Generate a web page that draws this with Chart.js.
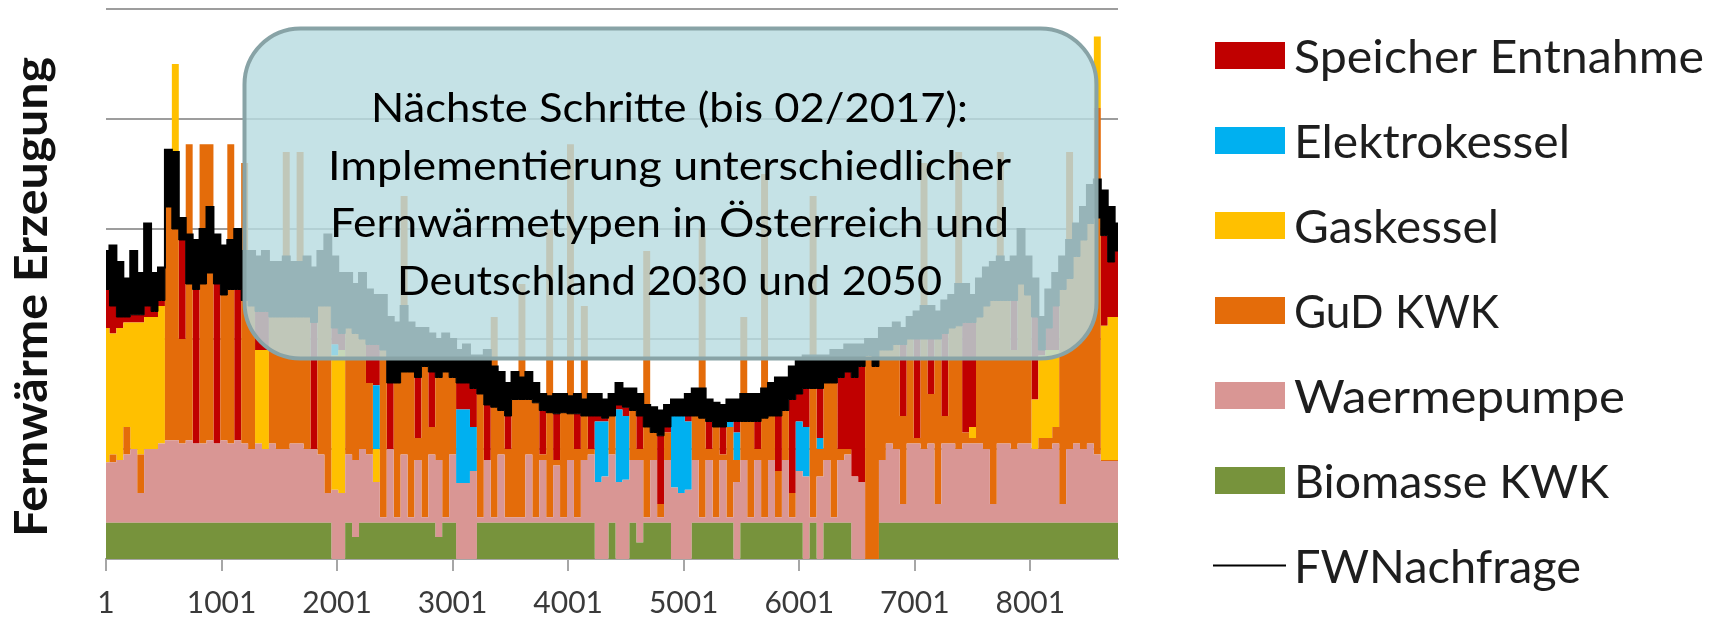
<!DOCTYPE html>
<html>
<head>
<meta charset="utf-8">
<script src="https://cdn.jsdelivr.net/npm/chart.js"></script>
<style>
html,body{margin:0;padding:0;background:#fff;}
canvas{display:block;}
</style>
</head>
<body>
<canvas id="c" width="1721" height="623"></canvas>
<script>
// ---------- data (one sample every 60 hours) ----------
const STEP = 60;
const tickLabels = [1, 1001, 2001, 3001, 4001, 5001, 6001, 7001, 8001];

const biomasse = [
 .33,.33,.33,.33,.33,.33,.33,.33,.33,.33,
 .33,.33,.33,.33,.33,.33,.33,.33,.33,.33,
 .33,.33,.33,.33,.33,.33,.33,.33,.33,.33,
 .33,.33,.33,0,0,.33,.2,.33,.33,.33,
 .33,.33,.33,.33,.33,.33,.33,.33,.2,.33,
 .33,0,0,0,.33,.33,.33,.33,.33,.33,
 .33,.33,.33,.33,.33,.33,.33,.33,.33,.33,
 .33,0,0,.33,0,0,.33,.15,.33,.33,
 .33,.33,0,0,0,.33,.33,.33,.33,.33,
 .33,0,.33,.33,.33,.33,.33,.33,.33,.33,
 .33,0,.33,0,.33,.33,.33,.33,0,0,
 0,0,.33,.33,.33,.33,.33,.33,.33,.33,
 .33,.33,.33,.33,.33,.33,.33,.33,.33,.33,
 .33,.33,.33,.33,.33,.33,.33,.33,.33,.33,
 .33,.33,.33,.33,.33,.33,.33
];
const waermepumpe = [
 .55,.55,.57,.62,.67,.27,.67,.67,.72,.75,
 .75,.72,.75,.72,.72,.75,.72,.75,.72,.75,
 .72,.67,.72,.67,.72,.67,.67,.72,.72,.67,
 .67,.62,.27,.63,.6,.62,.7,.67,.62,.37,
 .05,.67,.05,.62,.05,.57,.05,.62,.7,.05,
 .62,.69,.69,.8,.05,.57,.05,.62,.05,.05,
 .05,.62,.05,.57,.05,.52,.05,.57,.05,.57,
 .62,.7,.75,.62,.7,.72,.57,.75,.05,.57,
 .05,.57,.65,.6,.63,.57,.05,.57,.05,.57,
 .05,.7,.57,.05,.57,.05,.57,.05,.57,.05,
 .47,.75,.05,.75,.57,.05,.57,.62,.75,.7,
 0,0,.57,.72,.67,.17,.72,.72,.67,.72,
 .17,.72,.72,.67,.72,.72,.72,.67,.17,.72,
 .72,.67,.72,.72,.67,.67,.67,.72,.17,.67,
 .72,.67,.72,.62,.56,.56,.56
];
const gudKwk = [
 0,.07,0,.25,0,.35,0,0,0,2.64,
 2.59,.95,2.69,0,2.72,2.69,0,1.32,2.72,0,
 2.55,1.3,0,0,1.15,1.2,2.7,1.15,2.65,1.2,
 0,1.35,1.7,0,0,1.15,1.15,1.0,.65,0,
 1.52,0,1.22,2.35,1.32,.2,1.37,.25,.75,1.32,
 .7,0,0,0,1.12,0,1.82,.4,.62,1.07,
 2.12,.5,1.04,.05,2.62,.05,.95,2.87,.62,1.4,
 .05,0,0,.35,0,0,.45,.1,2.42,.25,
 .12,.25,0,0,0,.4,2.62,.1,.82,.05,
 .82,.2,1.3,.87,.1,3.12,.4,.42,.45,.22,
 0,0,2.92,.25,.7,1.22,.1,.05,0,0,
 1.85,1.75,1.0,.85,.95,.8,.95,.05,2.6,.45,
 1.5,.25,1.05,2.7,.1,.05,1.15,1.3,1.85,2.65,
 1.3,.9,1.45,1.35,0,.1,.1,.15,1.95,2.7,
 1.7,1.9,2.0,3.15,.01,.01,.01
];
const gaskessel = [
 1.22,1.1,1.2,.95,1.15,1.2,1.2,1.2,1.25,0,
 .83,0,0,0,0,0,0,0,0,0,
 0,0,.85,.9,0,0,0,0,0,0,
 0,0,0,1.22,1.3,0,0,0,0,.3,
 0,0,0,0,0,0,0,0,0,0,
 0,0,0,0,0,0,0,0,0,0,
 0,0,0,0,0,0,0,0,0,0,
 0,0,0,0,0,0,0,0,0,0,
 0,0,0,0,0,0,0,0,0,0,
 0,0,0,0,0,0,0,0,0,0,
 0,0,0,0,0,0,0,0,0,0,
 0,0,0,0,0,0,0,0,0,0,
 0,0,0,0,0,.1,0,0,0,0,
 0,0,0,0,.45,.75,.8,.7,0,0,
 0,0,0,.65,1.22,1.3,1.3
];
const elektrokessel = [
 0,0,0,0,0,0,0,0,0,0,
 0,0,0,0,0,0,0,0,0,0,
 0,0,0,0,0,0,0,0,0,0,
 0,0,0,.1,0,0,0,0,0,.58,
 0,0,0,0,0,0,0,0,0,0,
 0,.67,.67,.4,0,0,0,0,0,0,
 0,0,0,0,0,0,0,0,0,0,
 0,.55,.5,0,.66,.58,0,0,0,0,
 0,0,.65,.7,.62,0,0,0,0,0,
 .05,.25,0,0,0,0,0,0,0,0,
 .45,.45,0,.1,0,0,0,0,0,0,
 0,0,0,0,0,0,0,0,0,0,
 0,0,0,0,0,0,0,0,0,0,
 0,0,0,0,0,0,0,0,0,0,
 0,0,0,0,0,0,0
];
const speicherEntnahme = [
 .35,.25,.1,.05,.07,.07,.1,.05,.05,0,
 0,.9,0,1.4,0,0,1.45,0,0,1.37,
 0,0,.35,.35,0,0,0,0,0,0,
 1.15,0,0,.15,.15,0,0,0,.35,.37,
 0,.6,0,0,0,.55,0,.5,0,0,
 0,.24,.24,.35,0,.5,0,0,.3,0,
 0,0,0,.4,0,.42,0,0,.32,0,
 .3,.05,.03,0,.04,.08,0,.3,0,0,
 .62,.05,0,0,.05,0,0,.25,0,.25,
 0,.1,0,0,.25,0,0,.5,0,.85,
 .25,.35,0,.45,0,0,.65,.7,.9,1.05,
 0,0,0,0,0,.65,0,.9,0,.5,
 0,.75,0,0,1.0,.95,0,0,0,0,
 0,.45,0,0,.75,.05,.2,.4,0,0,
 0,0,0,0,.82,.5,.6
];
// FWNachfrage: upper and lower edge of the hourly (daily swinging) demand line
const nachfrageMax = [
 2.8,2.85,2.7,2.55,2.8,2.6,3.05,2.6,2.65,3.72,
 3.7,3.1,2.95,2.9,3.0,3.2,2.95,2.85,2.9,3.0,
 2.8,2.8,2.75,2.8,2.7,2.7,2.75,2.7,2.7,2.75,
 2.65,2.8,2.95,2.75,2.6,2.6,2.5,2.6,2.45,2.4,
 2.4,2.2,2.15,2.3,2.15,2.1,2.1,2.05,2.0,2.05,
 2.0,1.9,1.95,1.85,1.85,1.9,1.75,1.7,1.6,1.7,
 1.65,1.7,1.6,1.5,1.48,1.5,1.5,1.48,1.5,1.45,
 1.5,1.5,1.45,1.5,1.6,1.55,1.55,1.5,1.4,1.38,
 1.35,1.4,1.45,1.45,1.5,1.55,1.55,1.45,1.42,1.4,
 1.45,1.45,1.5,1.5,1.5,1.55,1.6,1.65,1.65,1.75,
 1.8,1.85,1.85,1.85,1.85,1.9,1.9,1.95,1.95,1.95,
 2.0,2.0,2.1,2.1,2.15,2.1,2.2,2.25,2.3,2.3,
 2.25,2.35,2.4,2.5,2.5,2.4,2.55,2.65,2.7,2.75,
 2.7,2.75,3.0,2.75,2.55,2.2,2.45,2.6,2.75,2.9,
 3.05,3.2,3.4,3.45,3.35,3.2,3.05
];
const nachfrageMin = [
 2.45,2.3,2.2,2.2,2.22,2.22,2.3,2.25,2.35,3.2,
 3.0,2.9,2.5,2.45,2.5,2.6,2.5,2.4,2.45,2.45,
 2.35,2.3,2.25,2.25,2.2,2.2,2.2,2.2,2.2,2.2,
 2.15,2.3,2.3,2.1,2.05,2.1,2.05,2.0,1.95,1.95,
 1.9,1.6,1.6,1.7,1.7,1.65,1.75,1.7,1.65,1.7,
 1.65,1.6,1.6,1.55,1.5,1.4,1.38,1.35,1.3,1.45,
 1.45,1.45,1.42,1.35,1.33,1.32,1.33,1.32,1.32,1.3,
 1.3,1.3,1.28,1.3,1.4,1.38,1.35,1.3,1.2,1.15,
 1.12,1.2,1.3,1.3,1.3,1.3,1.28,1.25,1.2,1.2,
 1.25,1.25,1.25,1.25,1.25,1.28,1.3,1.3,1.35,1.45,
 1.5,1.55,1.55,1.55,1.6,1.6,1.65,1.7,1.65,1.75,
 1.85,1.75,1.9,1.9,1.95,1.95,2.0,2.0,2.0,2.0,
 2.0,2.05,2.1,2.12,2.15,2.15,2.2,2.3,2.35,2.35,
 2.35,2.35,2.5,2.4,2.2,1.9,2.1,2.3,2.45,2.55,
 2.75,2.9,3.05,3.1,2.94,2.7,2.8
];

const axisTitle = 'Fernwärme Erzeugung';
const noteLines = [
  'Nächste Schritte (bis 02/2017):',
  'Implementierung unterschiedlicher',
  'Fernwärmetypen in Österreich und',
  'Deutschland 2030 und 2050'
];

// ---------- styles / layout ----------
const COLORS = {
  bio: '#77933c', wp: '#d99694', gud: '#e46c0a', gas: '#ffc000',
  ek: '#00b0f0', sp: '#c00000', fw: '#000000'
};
const FONT = 'Lato, "Open Sans", "Noto Sans", sans-serif';
const BOX = {x: 244.5, y: 28.5, w: 852, h: 330, r: 56};
const NOTE = {cx: 669.5, baselines: [121.7, 180, 237, 295], widths: [597, 683, 679, 545], size: 40};
const LEG = {swX: 1215, swW: 70, swH: 27, textX: 1294, y0: 55.5, gap: 85, size: 47,
  widths: {'Speicher Entnahme': 410, 'Elektrokessel': 276, 'Gaskessel': 205, 'GuD KWK': 205,
           'Waermepumpe': 331, 'Biomasse KWK': 315, 'FWNachfrage': 287}};
const TITLE = {x: 47, cy: 297, len: 480, size: 46};

const hours = biomasse.map((_, i) => 1 + i * STEP);
const pts = arr => arr.map((v, i) => ({x: hours[i], y: v}));
const area = (label, arr, color, fill) => ({
  label, data: pts(arr), backgroundColor: color, borderColor: color,
  borderWidth: 0, pointRadius: 0, fill, order: 1, stack: 'gen', stepped: 'middle'
});

function fitText(ctx, text, x, y, width, align) {
  const m = ctx.measureText(text).width || 1;
  let s = width / m;
  s = Math.max(0.75, Math.min(1.25, s));
  ctx.save();
  ctx.translate(x, y);
  ctx.scale(s, 1);
  ctx.textAlign = align;
  ctx.fillText(text, 0, 0);
  ctx.restore();
}

function roundRectPath(ctx, x, y, w, h, r) {
  ctx.beginPath();
  ctx.moveTo(x + r, y);
  ctx.lineTo(x + w - r, y);
  ctx.arcTo(x + w, y, x + w, y + r, r);
  ctx.lineTo(x + w, y + h - r);
  ctx.arcTo(x + w, y + h, x + w - r, y + h, r);
  ctx.lineTo(x + r, y + h);
  ctx.arcTo(x, y + h, x, y + h - r, r);
  ctx.lineTo(x, y + r);
  ctx.arcTo(x, y, x + r, y, r);
  ctx.closePath();
}

const overlay = {
  id: 'overlay',
  afterDraw(chart) {
    const ctx = chart.ctx;
    ctx.save();
    roundRectPath(ctx, BOX.x, BOX.y, BOX.w, BOX.h, BOX.r);
    ctx.fillStyle = 'rgba(184,220,225,0.82)';
    ctx.fill();
    ctx.lineWidth = 4;
    ctx.strokeStyle = '#88a3a6';
    ctx.stroke();
    ctx.fillStyle = '#000';
    ctx.font = NOTE.size + 'px ' + FONT;
    ctx.textBaseline = 'alphabetic';
    noteLines.forEach((t, i) => fitText(ctx, t, NOTE.cx, NOTE.baselines[i], NOTE.widths[i], 'center'));

    const ds = chart.data.datasets;
    const order = [5, 4, 3, 2, 1, 0];
    ctx.font = LEG.size + 'px ' + FONT;
    order.forEach((di, k) => {
      const cy = LEG.y0 + k * LEG.gap;
      ctx.fillStyle = ds[di].backgroundColor;
      ctx.fillRect(LEG.swX, cy - LEG.swH / 2, LEG.swW, LEG.swH);
      ctx.fillStyle = '#1e1e1e';
      fitText(ctx, ds[di].label, LEG.textX, cy + 17, LEG.widths[ds[di].label], 'left');
    });
    const cyL = LEG.y0 + 6 * LEG.gap;
    ctx.strokeStyle = '#000';
    ctx.lineWidth = 2;
    ctx.beginPath();
    ctx.moveTo(LEG.swX - 2, cyL);
    ctx.lineTo(LEG.swX + LEG.swW + 1, cyL);
    ctx.stroke();
    ctx.fillStyle = '#1e1e1e';
    fitText(ctx, ds[7].label, LEG.textX, cyL + 17, LEG.widths[ds[7].label], 'left');

    ctx.save();
    ctx.translate(TITLE.x, TITLE.cy);
    ctx.rotate(-Math.PI / 2);
    ctx.font = 'bold ' + TITLE.size + 'px ' + FONT;
    ctx.fillStyle = '#111';
    fitText(ctx, axisTitle, 0, 0, TITLE.len, 'center');
    ctx.restore();
    ctx.restore();
  }
};

function build() {
  new Chart(document.getElementById('c'), {
    type: 'line',
    data: {
      datasets: [
        area('Biomasse KWK', biomasse, COLORS.bio, 'origin'),
        area('Waermepumpe', waermepumpe, COLORS.wp, '-1'),
        area('GuD KWK', gudKwk, COLORS.gud, '-1'),
        area('Gaskessel', gaskessel, COLORS.gas, '-1'),
        area('Elektrokessel', elektrokessel, COLORS.ek, '-1'),
        area('Speicher Entnahme', speicherEntnahme, COLORS.sp, '-1'),
        {label: 'FWNachfrage (min)', data: pts(nachfrageMin), stack: 'dmin', order: -1,
         borderColor: COLORS.fw, borderWidth: 1, pointRadius: 0, fill: false, stepped: 'middle'},
        {label: 'FWNachfrage', data: pts(nachfrageMax), stack: 'dmax', order: -1,
         borderColor: COLORS.fw, backgroundColor: COLORS.fw, borderWidth: 2, pointRadius: 0,
         fill: 6, stepped: 'middle'}
      ]
    },
    options: {
      responsive: false,
      animation: false,
      devicePixelRatio: 1,
      layout: {padding: {left: 0, right: 603, top: 9, bottom: 0}},
      plugins: {legend: {display: false}, tooltip: {enabled: false}, title: {display: false}},
      scales: {
        x: {
          type: 'linear', min: 1, max: 8760,
          afterBuildTicks: s => { s.ticks = tickLabels.map(v => ({value: v})); },
          afterFit: s => { s.height = 64; },
          ticks: {autoSkip: false, maxRotation: 0, minRotation: 0, padding: 14,
                  color: '#3a3a3a', font: {family: FONT, size: 30},
                  callback: (v, i) => String(tickLabels[i])},
          grid: {drawOnChartArea: false, drawTicks: true, tickLength: 12, color: '#a6a6a6', lineWidth: 2},
          border: {display: true, color: '#a6a6a6', width: 2}
        },
        y: {
          stacked: true, min: 0, max: 5, z: 1,
          afterFit: s => { s.width = 106; },
          ticks: {display: false, stepSize: 1},
          grid: {color: 'rgba(60,60,60,0.5)', lineWidth: 2, drawTicks: false},
          border: {display: false}
        }
      }
    },
    plugins: [overlay]
  });
}

Promise.all([
  document.fonts.load('30px Lato'),
  document.fonts.load('bold 46px Lato')
]).catch(() => {}).finally(build);
</script>
</body>
</html>
